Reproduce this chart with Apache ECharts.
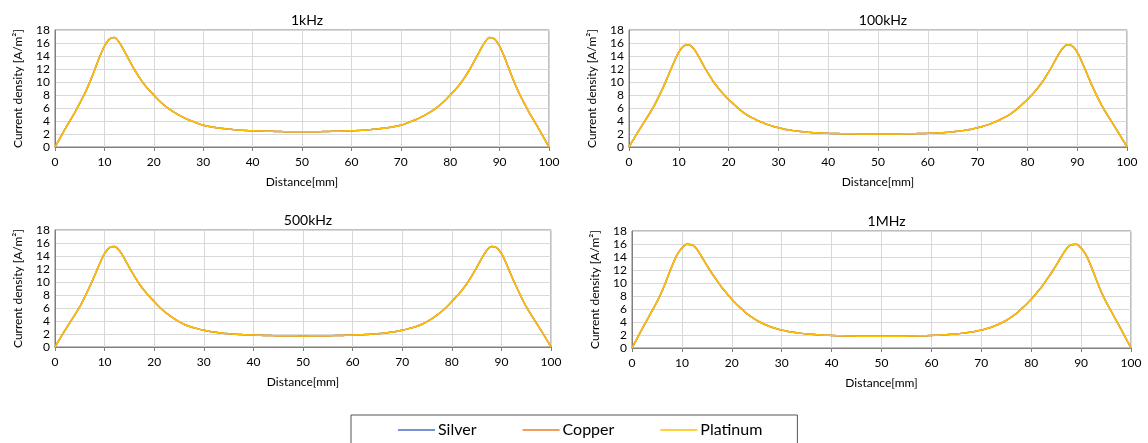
<!DOCTYPE html>
<html>
<head>
<meta charset="utf-8">
<script src="https://cdn.jsdelivr.net/npm/echarts@6/dist/echarts.min.js"></script>
<style>
  html, body { margin: 0; padding: 0; background: #fff; }
  #chart { width: 1148px; height: 443px; }
</style>
</head>
<body>
<div id="chart"></div>
<script>
// Position along the conductor [mm], 1 mm steps
const distance = [
  0, 1, 2, 3, 4, 5, 6, 7, 8, 9, 10, 11, 12, 13, 14, 15, 16, 17, 18, 19, 20,
  21, 22, 23, 24, 25, 26, 27, 28, 29, 30, 31, 32, 33, 34, 35, 36, 37, 38, 39, 40,
  41, 42, 43, 44, 45, 46, 47, 48, 49, 50, 51, 52, 53, 54, 55, 56, 57, 58, 59, 60,
  61, 62, 63, 64, 65, 66, 67, 68, 69, 70, 71, 72, 73, 74, 75, 76, 77, 78, 79, 80,
  81, 82, 83, 84, 85, 86, 87, 88, 89, 90, 91, 92, 93, 94, 95, 96, 97, 98, 99, 100
];

// Current density [A/m²] at each frequency
const density1kHz = [
  0, 1.35, 2.7, 4.0, 5.3, 6.7, 8.2, 9.9, 11.8, 13.8, 15.5,
  16.6, 16.85, 16.1, 14.8, 13.4, 12.0, 10.8, 9.7, 8.8, 8.0,
  7.2, 6.5, 5.9, 5.4, 4.95, 4.55, 4.2, 3.9, 3.6, 3.35,
  3.2, 3.05, 2.93, 2.83, 2.75, 2.68, 2.62, 2.57, 2.53, 2.5,
  2.47, 2.45, 2.43, 2.41, 2.39, 2.37, 2.36, 2.35, 2.34, 2.34,
  2.34, 2.35, 2.36, 2.37, 2.39, 2.41, 2.43, 2.45, 2.47,
  2.5, 2.53, 2.57, 2.62, 2.68, 2.75, 2.83, 2.93, 3.05, 3.2,
  3.35, 3.6, 3.9, 4.2, 4.55, 4.95, 5.4, 5.9, 6.5, 7.2,
  8.0, 8.8, 9.7, 10.8, 12.0, 13.4, 14.8, 16.1, 16.85, 16.6,
  15.5, 13.8, 11.8, 9.9, 8.2, 6.7, 5.3, 4.0, 2.7, 1.35, 0
];
const density100kHz = [
  0, 1.3, 2.55, 3.8, 5.0, 6.3, 7.8, 9.4, 11.2, 13.0, 14.6,
  15.55, 15.75, 15.1, 13.9, 12.5, 11.2, 10.0, 9.0, 8.1, 7.3,
  6.6, 5.9, 5.3, 4.8, 4.4, 4.0, 3.7, 3.4, 3.15, 2.95,
  2.78, 2.64, 2.52, 2.42, 2.34, 2.27, 2.21, 2.17, 2.13, 2.1,
  2.08, 2.06, 2.04, 2.03, 2.02, 2.01, 2.0, 2.0, 2.0, 2.0,
  2.0, 2.0, 2.0, 2.01, 2.02, 2.03, 2.04, 2.06, 2.08,
  2.1, 2.13, 2.17, 2.21, 2.27, 2.34, 2.42, 2.52, 2.64, 2.78,
  2.95, 3.15, 3.4, 3.7, 4.0, 4.4, 4.8, 5.3, 5.9, 6.6,
  7.3, 8.1, 9.0, 10.0, 11.2, 12.5, 13.9, 15.1, 15.75, 15.55,
  14.6, 13.0, 11.2, 9.4, 7.8, 6.3, 5.0, 3.8, 2.55, 1.3, 0
];
const density500kHz = [
  0, 1.3, 2.55, 3.75, 4.95, 6.2, 7.7, 9.3, 11.0, 12.8, 14.4,
  15.3, 15.45, 14.8, 13.6, 12.2, 10.9, 9.7, 8.7, 7.8, 7.0,
  6.2, 5.5, 4.9, 4.35, 3.9, 3.5, 3.2, 2.95, 2.75, 2.58,
  2.43, 2.3, 2.2, 2.12, 2.05, 1.99, 1.94, 1.9, 1.86, 1.83,
  1.8, 1.78, 1.76, 1.75, 1.74, 1.73, 1.72, 1.72, 1.71, 1.71,
  1.71, 1.72, 1.72, 1.73, 1.74, 1.75, 1.76, 1.78, 1.8,
  1.83, 1.86, 1.9, 1.94, 1.99, 2.05, 2.12, 2.2, 2.3, 2.43,
  2.58, 2.75, 2.95, 3.2, 3.5, 3.9, 4.35, 4.9, 5.5, 6.2,
  7.0, 7.8, 8.7, 9.7, 10.9, 12.2, 13.6, 14.8, 15.45, 15.3,
  14.4, 12.8, 11.0, 9.3, 7.7, 6.2, 4.95, 3.75, 2.55, 1.3, 0
];
const density1MHz = [
  0, 1.45, 2.9, 4.3, 5.7, 7.1, 8.7, 10.6, 12.6, 14.3, 15.4,
  15.95, 15.9, 15.2, 14.0, 12.7, 11.5, 10.4, 9.3, 8.4, 7.5,
  6.7, 6.0, 5.3, 4.75, 4.25, 3.85, 3.5, 3.2, 2.95, 2.75,
  2.6, 2.45, 2.35, 2.25, 2.17, 2.1, 2.05, 2.0, 1.96, 1.93,
  1.9, 1.88, 1.86, 1.84, 1.82, 1.81, 1.8, 1.8, 1.79, 1.79,
  1.79, 1.8, 1.8, 1.81, 1.82, 1.84, 1.86, 1.88, 1.9,
  1.93, 1.96, 2.0, 2.05, 2.1, 2.17, 2.25, 2.35, 2.45, 2.6,
  2.75, 2.95, 3.2, 3.5, 3.85, 4.25, 4.75, 5.3, 6.0, 6.7,
  7.5, 8.4, 9.3, 10.4, 11.5, 12.7, 14.0, 15.2, 15.9, 15.95,
  15.4, 14.3, 12.6, 10.6, 8.7, 7.1, 5.7, 4.3, 2.9, 1.45, 0
];

const frequencies = ['1kHz', '100kHz', '500kHz', '1MHz'];
const materials = ['Silver', 'Copper', 'Platinum'];
const materialColors = ['#4472C4', '#ED7D31', '#FFC000'];
// The three metals give practically the same profile at each frequency
const profiles = [density1kHz, density100kHz, density500kHz, density1MHz];

const xTicks = { min: 0, max: 100, interval: 10 };
const yTicks = { min: 0, max: 18, interval: 2 };

const FONT = 'Lato, "Liberation Sans", sans-serif';
const TEXT = '#000';

const grids = [
  { left: 55, right: 599, top: 30, height: 117 },
  { left: 629, right: 21, top: 30, height: 117 },
  { left: 55, right: 597, top: 230, height: 117 },
  { left: 632, right: 17, top: 231, height: 117 }
];

const option = {
  animation: false,
  backgroundColor: '#fff',
  textStyle: { fontFamily: FONT },
  title: grids.map((g, i) => ({
    text: frequencies[i],
    left: g.left + (1148 - g.left - g.right) / 2,
    top: g.top - 22,
    textAlign: 'center',
    textStyle: { fontFamily: FONT, fontSize: 14, fontWeight: 'normal', color: TEXT }
  })),
  legend: {
    data: materials,
    left: 351,
    top: 415,
    padding: [7, 35, 20, 47],
    icon: 'rect',
    itemGap: 46,
    itemWidth: 37,
    itemHeight: 1.5,
    borderColor: '#555',
    borderWidth: 1,
    borderRadius: 0,
    textStyle: { fontFamily: FONT, fontSize: 16, color: TEXT, padding: [0, 0, 0, -2] }
  },
  grid: grids.map(g => Object.assign({ show: true, borderColor: '#7f7f7f', borderWidth: 1, backgroundColor: 'transparent' }, g)),
  xAxis: grids.map((g, i) => ({
    type: 'value',
    gridIndex: i,
    min: xTicks.min, max: xTicks.max, interval: xTicks.interval,
    name: 'Distance[mm]',
    nameLocation: 'middle',
    nameGap: 29,
    nameTextStyle: { fontFamily: FONT, fontSize: 12, color: TEXT },
    axisLine: { show: true, lineStyle: { color: '#7f7f7f', width: 1 } },
    axisTick: { show: true, length: 4, lineStyle: { color: '#7f7f7f' } },
    axisLabel: { fontFamily: FONT, fontSize: 12, color: TEXT, margin: 9 },
    splitLine: { show: true, lineStyle: { color: '#d9d9d9', width: 1 } }
  })),
  yAxis: grids.map((g, i) => ({
    type: 'value',
    gridIndex: i,
    min: yTicks.min, max: yTicks.max, interval: yTicks.interval,
    name: 'Current density [A/m²]',
    nameLocation: 'middle',
    nameGap: 31,
    nameTextStyle: { fontFamily: FONT, fontSize: 12, color: TEXT },
    axisLine: { show: true, lineStyle: { color: '#7f7f7f', width: 1 } },
    axisTick: { show: false },
    axisLabel: { fontFamily: FONT, fontSize: 12, color: TEXT, margin: 5 },
    splitLine: { show: true, lineStyle: { color: '#d9d9d9', width: 1 } }
  })),
  series: []
};

profiles.forEach((values, gi) => {
  const points = distance.map((d, k) => [d, values[k]]);
  materials.forEach((name, mi) => {
    option.series.push({
      name: name,
      type: 'line',
      xAxisIndex: gi,
      yAxisIndex: gi,
      data: points,
      smooth: 0.3,
      symbol: 'none',
      color: materialColors[mi],
      lineStyle: { width: 1.5, color: materialColors[mi] },
      z: 2 + mi
    });
  });
});

const chart = echarts.init(document.getElementById('chart'), null, { renderer: 'canvas' });
chart.setOption(option);
</script>
</body>
</html>
